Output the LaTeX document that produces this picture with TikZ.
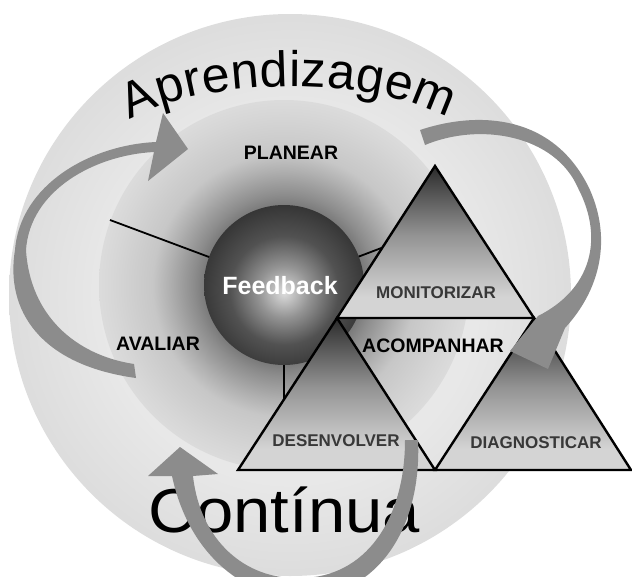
\documentclass[tikz,border=0pt]{standalone}
\usepackage{fontspec}
\setmainfont{Liberation Sans}
\usetikzlibrary{decorations.text}

% grey tones
\definecolor{diskrim}{gray}{0.865}
\definecolor{diskin}{gray}{0.91}
\definecolor{haloA}{gray}{0.48}
\definecolor{haloB}{gray}{0.55}
\definecolor{haloC}{gray}{0.69}
\definecolor{haloD}{gray}{0.78}
\definecolor{haloE}{gray}{0.84}
\definecolor{haloF}{gray}{0.86}
\definecolor{ballA}{gray}{0.86}
\definecolor{ballB}{gray}{0.58}
\definecolor{ballC}{gray}{0.32}
\definecolor{ballD}{gray}{0.2}
\definecolor{triLight}{gray}{0.83}
\definecolor{triMid}{gray}{0.58}
\definecolor{triDark}{gray}{0.17}
\definecolor{bandgray}{gray}{0.55}
\definecolor{labelgray}{gray}{0.22}

% background disk, dark glow round the ball, the ball, the triangles
\pgfdeclareradialshading{diskshade}{\pgfpointorigin}{color(0bp)=(diskin); color(16.6bp)=(diskin); color(25bp)=(diskrim); color(50bp)=(diskrim)}
\pgfdeclareradialshading{haloshade}{\pgfpointorigin}{color(0bp)=(haloA); color(10.8bp)=(haloA); color(12.2bp)=(haloB); color(15.5bp)=(haloC); color(17.8bp)=(haloD); color(23bp)=(haloE); color(25bp)=(haloF); color(50bp)=(haloF)}
\pgfdeclareradialshading{ballshade}{\pgfpoint{0bp}{-2.5bp}}{color(0bp)=(ballA); color(8bp)=(ballB); color(17bp)=(ballC); color(27bp)=(ballD); color(50bp)=(ballD)}
\pgfdeclareverticalshading{trishade}{100bp}{color(0bp)=(triLight); color(32bp)=(triLight); color(52bp)=(triMid); color(75bp)=(triDark); color(100bp)=(triDark)}

\newcommand\aprfont{\fontsize{50}{50}\selectfont}

\begin{document}
\begin{tikzpicture}[x=1pt,y=-1pt,
  lbl/.style={font=\bfseries\fontsize{19.5}{20}\selectfont, text=black, inner sep=0pt},
  tlbl/.style={font=\bfseries\fontsize{17}{18}\selectfont, text=labelgray, inner sep=0pt},
  tri/.style={shade, shading=trishade, draw=black, line width=2.4pt, line join=miter},
  spoke/.style={draw=black, line width=1.8pt},
  band/.style={fill=bandgray, draw=none}]
\useasboundingbox (0,0) rectangle (632,576);
\clip (0,0) rectangle (632,576);

% disks
\coordinate (diskc) at (290,295);
\coordinate (hub) at (284,285);
\shade[shading=diskshade] (diskc) circle (281pt);
\shade[shading=haloshade] (hub) circle (185pt);

% spokes
\coordinate (spokeW) at (110,220);
\coordinate (spokeS) at (284,468);
\coordinate (spokeE) at (455,220);
\draw[spoke] (hub) -- (spokeW);
\draw[spoke] (hub) -- (spokeS);
\draw[spoke] (hub) -- (spokeE);

% ball
\node[circle, minimum size=160pt, inner sep=0pt, shade, shading=ballshade] (ball) at (hub) {};
\node[font=\bfseries\fontsize{25}{26}\selectfont, text=white, inner sep=0pt] (fb) at (280,286) {Feedback};

% triangles
\coordinate (m1) at (435,166);
\coordinate (m2) at (337,318);
\coordinate (m3) at (534,318);
\coordinate (d3) at (238,470);
\coordinate (d4) at (435,470);
\coordinate (g4) at (631,470);
\draw[tri] (m1) -- (m3) -- (m2) -- cycle;
\draw[tri] (m2) -- (d4) -- (d3) -- cycle;
\draw[tri] (m3) -- (g4) -- (d4) -- cycle;

% labels
\node[lbl] (planear) at (291,153) {PLANEAR};
\node[lbl] (avaliar) at (158,344) {AVALIAR};
\node[lbl] (acomp) at (433,346) {ACOMPANHAR};
\node[tlbl] (monit) at (436,293) {MONITORIZAR};
\node[tlbl] (desenv) at (336,441) {DESENVOLVER};
\node[tlbl] (diagn) at (536,443) {DIAGNOSTICAR};

\node[font=\fontsize{62}{62}\selectfont, anchor=base, inner sep=0pt, xscale=1.08] (cont) at (284,532) {Contínua};

% curved arrows
\fill[band] (136,378) .. controls (40,365) and (5,310) .. (15,250)
  .. controls (20,185) and (90,145) .. (156,142)
  -- (163,113) -- (188,149) -- (148,181) -- (154,152)
  .. controls (95,155) and (30,190) .. (26,250)
  .. controls (30,315) and (75,355) .. (134,364) -- cycle;

\fill[band] (420,130) .. controls (480,110) and (555,115) .. (590,190)
  .. controls (612,240) and (600,290) .. (565,328)
  -- (548,369) -- (510,351) -- (538,316)
  .. controls (590,290) and (605,240) .. (578,188)
  .. controls (555,135) and (480,122) .. (425,145) -- cycle;

\fill[band] (405,440) -- (418,440) .. controls (422,525) and (380,597) .. (300,598)
  .. controls (250,598) and (190,560) .. (172,476)
  -- (148,476) -- (180,447) -- (218,474) -- (193,476)
  .. controls (200,540) and (245,580) .. (300,578)
  .. controls (365,578) and (405,520) .. (405,440) -- cycle;

% arched title
\coordinate (apL) at (130,120);
\coordinate (apR) at (448,118);
\path[decorate, decoration={text along path, text={|\aprfont|Aprendizagem}, text align={fit to path}}]
  (apL) .. controls (205,76) and (372,76) .. (apR);
\end{tikzpicture}
\end{document}
